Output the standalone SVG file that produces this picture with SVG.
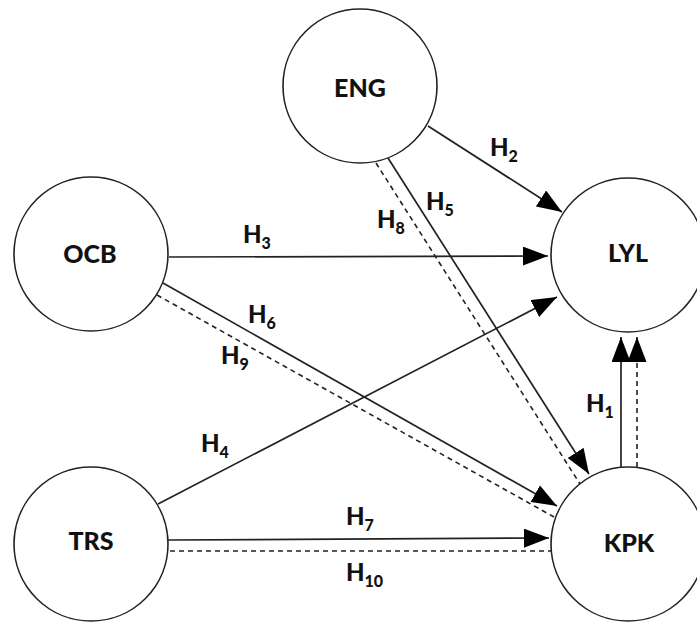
<svg xmlns="http://www.w3.org/2000/svg" width="697" height="622" viewBox="0 0 697 622">
<style>
.node circle{fill:#fff;stroke:#222;stroke-width:1.6}
.node text{font-family:Lato,"Liberation Sans",sans-serif;font-weight:900;font-size:25px;fill:#111;text-anchor:middle}
.lbl{font-family:Lato,"Liberation Sans",sans-serif;font-weight:900;font-size:24px;fill:#111}
.sub{font-size:16px}
.s{stroke:#222;stroke-width:1.7;fill:none}
.d{stroke:#222;stroke-width:1.6;fill:none;stroke-dasharray:5 4}
</style>
<defs>
<marker id="ah" markerUnits="userSpaceOnUse" markerWidth="25" markerHeight="19" refX="25" refY="9.5" orient="auto">
<path d="M0,0 L25,9.5 L0,19 z" fill="#000"/>
</marker>
</defs>
<rect width="697" height="622" fill="#fff"/>
<g id="connectors">
<line class="s" x1="428" y1="126" x2="562" y2="212" marker-end="url(#ah)"/>
<line class="s" x1="169" y1="257" x2="548" y2="256" marker-end="url(#ah)"/>
<line class="s" x1="158" y1="504" x2="557" y2="297" marker-end="url(#ah)"/>
<line class="s" x1="388" y1="158" x2="589" y2="474" marker-end="url(#ah)"/>
<line class="d" x1="376" y1="163" x2="580" y2="484"/>
<line class="s" x1="163" y1="283" x2="557" y2="506" marker-end="url(#ah)"/>
<line class="d" x1="157" y1="295" x2="554" y2="517"/>
<line class="s" x1="168" y1="540" x2="549" y2="538" marker-end="url(#ah)"/>
<line class="d" x1="170" y1="551" x2="552" y2="551"/>
<line class="s" x1="621" y1="467" x2="621" y2="337" marker-end="url(#ah)"/>
<line class="d" x1="637" y1="467" x2="637" y2="337" marker-end="url(#ah)"/>
<text class="lbl" x="490" y="156">H<tspan class="sub" dy="6">2</tspan></text>
<text class="lbl" x="243" y="243">H<tspan class="sub" dy="6">3</tspan></text>
<text class="lbl" x="201" y="452">H<tspan class="sub" dy="6">4</tspan></text>
<text class="lbl" x="426" y="210">H<tspan class="sub" dy="6">5</tspan></text>
<text class="lbl" x="377" y="228">H<tspan class="sub" dy="6">8</tspan></text>
<text class="lbl" x="248" y="323">H<tspan class="sub" dy="6">6</tspan></text>
<text class="lbl" x="221" y="364">H<tspan class="sub" dy="6">9</tspan></text>
<text class="lbl" x="346" y="525">H<tspan class="sub" dy="6">7</tspan></text>
<text class="lbl" x="346" y="581">H<tspan class="sub" dy="6">10</tspan></text>
<text class="lbl" x="586" y="412">H<tspan class="sub" dy="6">1</tspan></text>
</g>
<g id="ENG" class="node"><circle cx="360" cy="86" r="77"/><text x="360" y="97">ENG</text></g>
<g id="OCB" class="node"><circle cx="91" cy="254" r="77"/><text x="90" y="263">OCB</text></g>
<g id="LYL" class="node"><circle cx="628" cy="255" r="77"/><text x="628" y="262">LYL</text></g>
<g id="TRS" class="node"><circle cx="91" cy="544" r="77"/><text x="91" y="550">TRS</text></g>
<g id="KPK" class="node"><circle cx="628" cy="544" r="77"/><text x="629" y="552">KPK</text></g>
</svg>
